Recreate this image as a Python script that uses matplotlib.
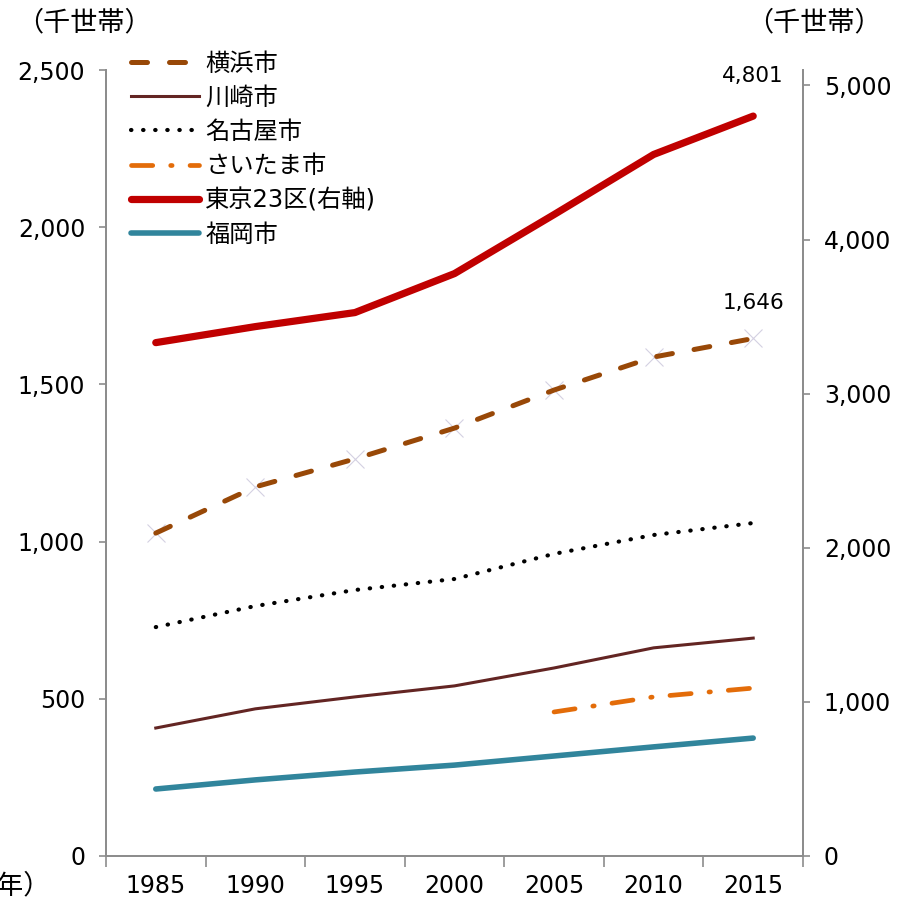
import matplotlib.pyplot as plt

plt.rcParams['font.family'] = ['DejaVu Sans', 'Noto Sans CJK JP']

# データ（千世帯）
years = ['1985', '1990', '1995', '2000', '2005', '2010', '2015']
yokohama = [1027, 1174, 1263, 1361, 1482, 1587, 1646]
kawasaki = [407, 468, 506, 541, 598, 662, 693]
nagoya = [728, 795, 846, 881, 961, 1021, 1059]
saitama = [None, None, None, None, 458, 506, 534]
tokyo23 = [3331, 3435, 3526, 3779, 4162, 4552, 4801]
fukuoka = [213, 242, 267, 289, 318, 347, 375]

x = list(range(len(years)))
x_sai = [i for i, v in zip(x, saitama) if v is not None]
v_sai = [v for v in saitama if v is not None]

fig = plt.figure(figsize=(8.99, 9.08), dpi=100)
ax = fig.add_axes([0.1179, 0.0573, 0.7753, 0.8656])
ax2 = ax.twinx()

gray = '#8c8c8c'
jp = ['Noto Sans CJK JP']

# 右軸：東京23区
l_tokyo, = ax2.plot(x, tokyo23, color='#C00000', lw=5.2, solid_capstyle='round',
                    label='東京23区(右軸)')

# 左軸
l_yoko, = ax.plot(x, yokohama, color='#984807', lw=3.6, dashes=(3.2, 4.4),
                  dash_capstyle='round', label='横浜市', zorder=3)
ax.plot(x, yokohama, ls='none', marker='x', ms=13, mew=0.8, color='#d4d0e2', zorder=2)
l_kawa, = ax.plot(x, kawasaki, color='#632523', lw=2.2, label='川崎市')
l_nago, = ax.plot(x, nagoya, color='black', lw=3.0, dashes=(0.1, 2.8),
                  dash_capstyle='round', label='名古屋市')
l_sai, = ax.plot(x_sai, v_sai, color='#E36C09', lw=3.4, dashes=(4.5, 3.8, 0.3, 3.8),
                 dash_capstyle='round', label='さいたま市')
l_fuku, = ax.plot(x, fukuoka, color='#31859C', lw=4.0, solid_capstyle='round',
                  label='福岡市')

ax.set_xlim(-0.5, len(years) - 0.5)
ax.set_ylim(0, 2500)
ax2.set_ylim(0, 5100)

ax.set_yticks([0, 500, 1000, 1500, 2000, 2500])
ax.set_yticklabels(['0', '500', '1,000', '1,500', '2,000', '2,500'])
ax2.set_yticks([0, 1000, 2000, 3000, 4000, 5000])
ax2.set_yticklabels(['0', '1,000', '2,000', '3,000', '4,000', '5,000'])

ax.set_xticks(x)
ax.set_xticklabels(years)
ax.set_xticks([i - 0.5 for i in range(len(years) + 1)], minor=True)
ax.tick_params(axis='x', which='major', length=0, pad=13, labelsize=17)
ax.tick_params(axis='x', which='minor', length=8, width=1.2, color=gray, direction='out')
ax.tick_params(axis='y', length=5, width=1.2, color=gray, labelsize=17, pad=10)
ax2.tick_params(axis='y', length=5, width=1.2, color=gray, labelsize=17, pad=10)

for a in (ax, ax2):
    a.spines['top'].set_visible(False)
    for s in ('left', 'right', 'bottom'):
        a.spines[s].set_color(gray)
        a.spines[s].set_linewidth(1.3)

# データラベル
ax2.annotate(f'{tokyo23[-1]:,}', (x[-1], tokyo23[-1]), xytext=(0, 22),
             textcoords='offset points', ha='center', va='bottom', fontsize=15.5)
ax.annotate(f'{yokohama[-1]:,}', (x[-1], yokohama[-1]), xytext=(0, 18),
            textcoords='offset points', ha='center', va='bottom', fontsize=15.5)

# 単位
fig.text(0.018, 0.975, '（千世帯）', fontsize=19.5, va='center', ha='left', family=jp)
fig.text(0.83, 0.975, '（千世帯）', fontsize=19.5, va='center', ha='left', family=jp)
fig.text(-0.034, 0.024, '（年）', fontsize=19.5, va='center', ha='left', family=jp)

handles = [l_yoko, l_kawa, l_nago, l_sai, l_tokyo, l_fuku]
leg = ax2.legend(handles=handles, loc='upper left', bbox_to_anchor=(0.022, 1.036),
                 frameon=False, fontsize=17.5, handlelength=2.8, handletextpad=0.25,
                 labelspacing=0.42, borderaxespad=0)

fig.savefig('out.png', dpi=100)
